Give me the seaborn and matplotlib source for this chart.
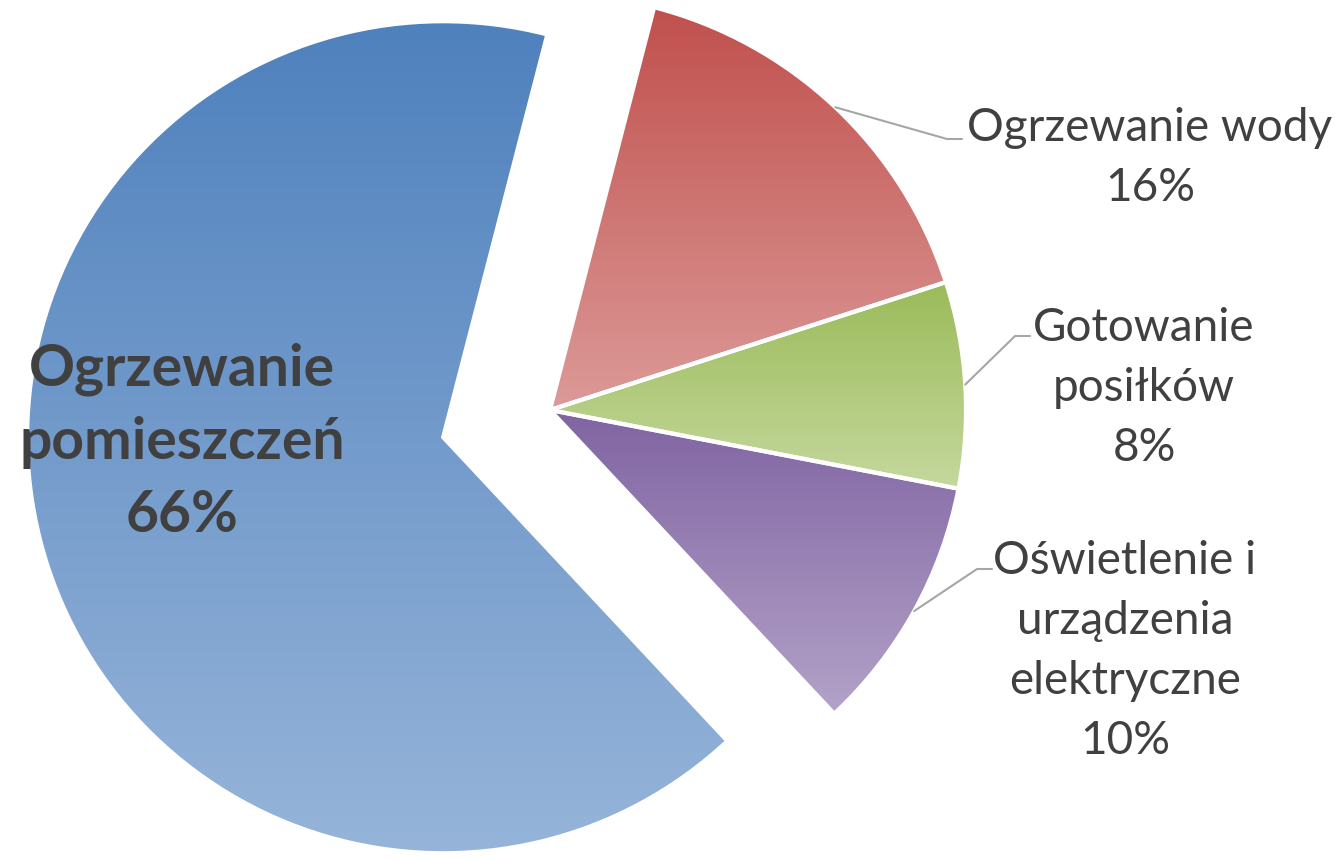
import numpy as np
import matplotlib
matplotlib.use("Agg")
import matplotlib.pyplot as plt
from matplotlib.colors import LinearSegmentedColormap
import seaborn as sns

# ---- data ----
categories = ["Ogrzewanie wody", "Gotowanie posiłków",
              "Oświetlenie i urządzenia elektryczne", "Ogrzewanie pomieszczeń"]
shares = [16, 8, 10, 66]
label_texts = ["Ogrzewanie wody\n16%", "Gotowanie\nposiłków\n8%",
               "Oświetlenie i\nurządzenia\nelektryczne\n10%",
               "Ogrzewanie\npomieszczeń\n66%"]
top_colors = ["#c0504d", "#9bbb59", "#8064a2", "#4f81bd"]
bottom_colors = ["#dc9a98", "#c5d89e", "#b3a2c8", "#96b4d9"]
explode = [0, 0, 0, 0.265]

sns.set_theme(style="white")
plt.rcParams["font.family"] = ["Lato", "DejaVu Sans"]

W, H = 1339, 862
CX, CY, R = 550, 411, 416  # pixel layout of the pie


def px(x, y):
    return ((x - CX) / R, (CY - y) / R)


fig = plt.figure(figsize=(W / 100, H / 100), dpi=100)
ax = fig.add_axes([0, 0, 1, 1])

wedges, _ = ax.pie(shares, explode=explode, startangle=75.5, counterclock=False,
                   radius=1, center=(0, 0),
                   wedgeprops=dict(edgecolor="white", linewidth=3))

ax.set_xlim(px(0, 0)[0], px(W, 0)[0])
ax.set_ylim(px(0, H)[1], px(0, 0)[1])
ax.set_aspect("equal")
ax.axis("off")

grad = np.linspace(0, 1, 256).reshape(-1, 1)
for w, c1, c2 in zip(wedges, top_colors, bottom_colors):
    ext = w.get_path().get_extents()
    cmap = LinearSegmentedColormap.from_list("g", [c1, c2])
    im = ax.imshow(grad, cmap=cmap, aspect="auto", origin="upper",
                   extent=(ext.x0, ext.x1, ext.y0, ext.y1), zorder=0.5,
                   interpolation="bilinear")
    im.set_clip_path(w)
    w.set_facecolor("none")
    w.set_zorder(1)

txt_color = "#404040"
line_color = "#a6a6a6"

# small-slice labels: (text centre in px, elbow in px, line end in px)
small_layout = [
    ((1150, 158), (947, 140), (962, 140)),
    ((1144, 388), (1015, 337), (1030, 337)),
    ((1125, 651), (977, 570), (992, 570)),
]
for w, txt, (tpos, elbow, lend) in zip(wedges[:3], label_texts[:3], small_layout):
    th = np.deg2rad(0.5 * (w.theta1 + w.theta2))
    cx, cy = w.center
    x0, y0 = cx + w.r * np.cos(th), cy + w.r * np.sin(th)
    ex, ey = px(*elbow)
    lx, ly = px(*lend)
    ax.plot([x0, ex, lx], [y0, ey, ly], color=line_color, lw=1.5, zorder=2)
    ax.text(*px(*tpos), txt, ha="center", va="center", fontsize=33,
            color=txt_color, linespacing=1.52, zorder=3)

ax.text(*px(182, 442), label_texts[3], ha="center", va="center", fontsize=41,
        fontweight="bold", color=txt_color, linespacing=1.47, zorder=3)

fig.savefig("out.png", dpi=100, facecolor="white")
